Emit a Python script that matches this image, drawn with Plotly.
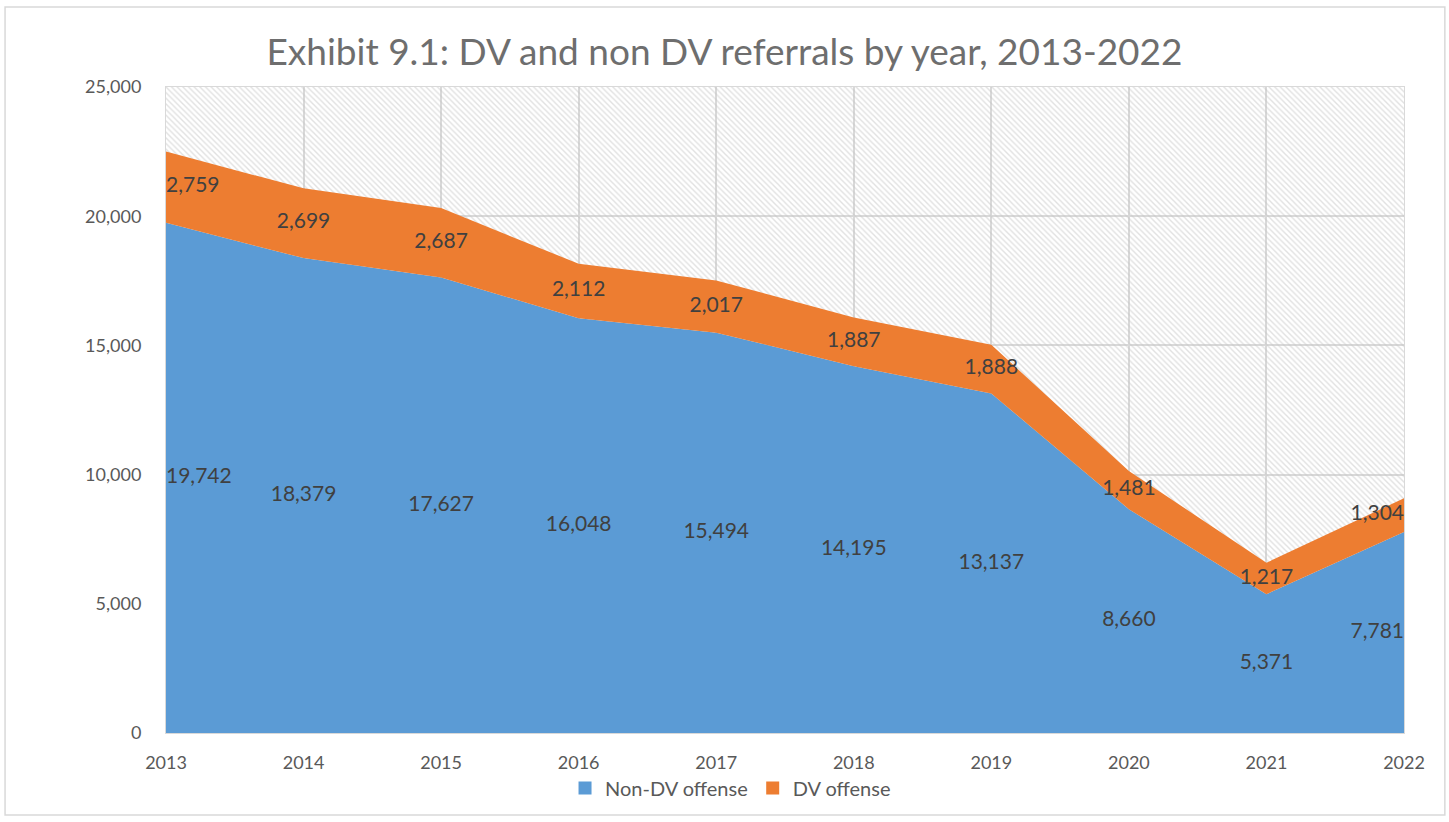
import plotly.graph_objects as go

years = [2013, 2014, 2015, 2016, 2017, 2018, 2019, 2020, 2021, 2022]
non_dv = [19742, 18379, 17627, 16048, 15494, 14195, 13137, 8660, 5371, 7781]
dv = [2759, 2699, 2687, 2112, 2017, 1887, 1888, 1481, 1217, 1304]
y_max = 25000
y_ticks = [0, 5000, 10000, 15000, 20000, 25000]

FONT = "Lato"
BLUE = "#5B9BD5"
ORANGE = "#ED7D31"
GRID = "#d9d9d9"
TEXT = "#404040"
TICK = "#595959"

n = len(years)
positions = ["middle right"] + ["middle center"] * (n - 2) + ["middle left"]

fig = go.Figure()

# hatched plot-area background
fig.add_trace(go.Scatter(
    x=years, y=[y_max] * n, fill="tozeroy", mode="none",
    fillcolor="rgba(0,0,0,0)",
    fillpattern=dict(shape="\\", fgcolor="#c4c4c4", bgcolor="rgba(0,0,0,0)",
                     size=4, solidity=0.35),
    hoverinfo="skip", showlegend=False))

fig.add_trace(go.Scatter(
    x=years, y=non_dv, name="Non-DV offense", stackgroup="one", mode="none",
    fillcolor=BLUE, line=dict(width=0), showlegend=False))
fig.add_trace(go.Scatter(
    x=years, y=dv, name="DV offense", stackgroup="one", mode="none",
    fillcolor=ORANGE, line=dict(width=0), showlegend=False))

# legend entries with square swatches
for name, col in [("Non-DV offense", BLUE), ("DV offense", ORANGE)]:
    fig.add_trace(go.Scatter(
        x=[None], y=[None], mode="markers", name=name,
        marker=dict(symbol="square", size=13, color=col)))

# data labels at the middle of each band
fig.add_trace(go.Scatter(
    x=years, y=[v / 2 for v in non_dv], mode="text",
    text=[f"{v:,}" for v in non_dv], textposition=positions,
    textfont=dict(family=FONT, size=21, color=TEXT),
    hoverinfo="skip", showlegend=False))
fig.add_trace(go.Scatter(
    x=years, y=[a + b / 2 for a, b in zip(non_dv, dv)], mode="text",
    text=[f"{v:,}" for v in dv], textposition=positions,
    textfont=dict(family=FONT, size=21, color=TEXT),
    hoverinfo="skip", showlegend=False))

fig.update_layout(
    width=1449, height=822,
    margin=dict(l=166, r=45, t=87, b=89),
    paper_bgcolor="white", plot_bgcolor="white",
    font=dict(family=FONT, color=TICK),
    title=dict(text="Exhibit 9.1: DV and non DV referrals by year, 2013-2022",
               x=0.5, xanchor="center", y=0.937, yanchor="middle",
               font=dict(family=FONT, size=37, color="#6e6e6e")),
    legend=dict(orientation="h", x=0.456, xanchor="center", y=-0.055,
                yanchor="top", font=dict(family=FONT, size=20, color=TICK),
                traceorder="normal", itemwidth=30, tracegroupgap=0),
    showlegend=True,
)
fig.update_xaxes(
    range=[years[0], years[-1]], tickvals=years, ticktext=[str(y) for y in years],
    showgrid=True, gridcolor=GRID, gridwidth=1.5, zeroline=False,
    showline=True, linecolor=GRID, mirror=True,
    tickfont=dict(family=FONT, size=18, color=TICK), ticks="", ticklabelstandoff=13)
fig.update_yaxes(
    range=[0, y_max], tickvals=y_ticks, tickformat=",",
    showgrid=True, gridcolor=GRID, gridwidth=1.5, zeroline=False,
    showline=True, linecolor=GRID, mirror=True,
    tickfont=dict(family=FONT, size=18, color=TICK), ticks="", ticklabelstandoff=20)

# outer chart border
fig.add_shape(type="rect", xref="paper", yref="paper",
              x0=-0.130, x1=1.033, y0=-0.127, y1=1.1238,
              line=dict(color=GRID, width=1.5), layer="below")

fig.write_html("out.html", config={"displayModeBar": False},
               post_script="document.body.style.margin='0px';")
